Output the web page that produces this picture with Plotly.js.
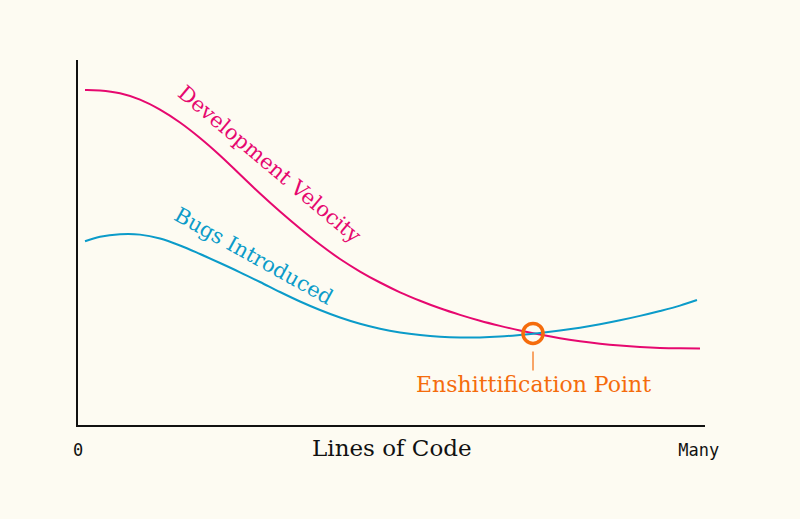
<!DOCTYPE html>
<html><head><meta charset="utf-8">
<script src="https://cdn.plot.ly/plotly-3.0.1.min.js"></script>
<style>html,body{margin:0;padding:0;background:#fdfbf2;}#c{width:800px;height:519px;}</style>
</head><body><div id="c"></div>
<script>
const velX = [1.12, 3.51, 6.70, 9.89, 13.08, 16.27, 19.46, 22.65, 25.84, 29.03, 32.22, 35.41, 38.60, 41.79, 44.98, 48.17,
  51.36, 54.55, 57.74, 60.93, 64.11, 67.30, 70.49, 73.68, 76.87, 80.06, 83.25, 86.44, 89.63, 92.82, 96.01, 99.20];
const velY = [91.78, 91.67, 90.88, 89.15, 86.41, 82.88, 78.63, 73.84, 68.63, 63.42, 58.49, 53.84, 49.45, 45.48, 42.05, 39.04,
  36.36, 34.05, 31.97, 30.16, 28.55, 27.15, 25.89, 24.77, 23.78, 22.96, 22.27, 21.75, 21.37, 21.12, 21.01, 20.99];
const bugX = [1.12, 3.51, 6.70, 9.89, 13.08, 16.27, 19.46, 22.65, 25.84, 29.03, 32.22, 35.41, 38.60, 41.79, 44.98, 48.17,
  51.36, 54.55, 57.74, 60.93, 64.11, 67.30, 70.49, 73.68, 76.87, 80.06, 83.25, 86.44, 89.63, 92.82, 96.01, 98.72];
const bugY = [50.33, 51.56, 52.25, 52.16, 51.10, 49.18, 46.85, 44.38, 41.84, 39.18, 36.44, 33.84, 31.51, 29.45, 27.73, 26.38,
  25.37, 24.66, 24.19, 23.97, 23.97, 24.22, 24.68, 25.23, 25.89, 26.66, 27.59, 28.68, 29.89, 31.23, 32.71, 34.25];
const pointX = [72.57];
const pointY = [25.1];
const tickVals = [0, 99];
const tickText = ['0', 'Many'];
const xTitle = 'Lines of Code';
const serif = 'DejaVu Serif, serif';
const traces = [
  {x: velX, y: velY, mode: 'lines', line: {color: '#e6086f', width: 2, shape: 'spline', smoothing: 1}, hoverinfo: 'skip'},
  {x: bugX, y: bugY, mode: 'lines', line: {color: '#0b9bc9', width: 2, shape: 'spline', smoothing: 1}, hoverinfo: 'skip'},
  {x: pointX, y: pointY, mode: 'markers', marker: {symbol: 'circle-open', size: 20, color: '#f56c0c', line: {width: 3.5, color: '#f56c0c'}}, hoverinfo: 'skip'}
];
const layout = {
  width: 800, height: 519,
  paper_bgcolor: '#fdfbf2', plot_bgcolor: '#fdfbf2',
  margin: {l: 78, r: 95, t: 60, b: 94},
  showlegend: false,
  xaxis: {range: [0, 100], showgrid: false, zeroline: false, showline: true, linecolor: '#111', linewidth: 2,
    tickvals: tickVals, ticktext: tickText, ticks: 'outside', ticklen: 9, tickcolor: 'rgba(0,0,0,0)',
    tickfont: {family: 'DejaVu Sans Mono, monospace', size: 17, color: '#111'}},
  yaxis: {range: [0, 100], showgrid: false, zeroline: false, showline: true, linecolor: '#111', linewidth: 2,
    showticklabels: false, ticks: ''},
  annotations: [
    {x: 0.5, y: -0.063, xref: 'paper', yref: 'paper', xanchor: 'center', yanchor: 'middle', text: xTitle, showarrow: false,
      font: {family: serif, size: 23, color: '#111'}},
    {x: 30.5, y: 71.5, xref: 'x', yref: 'y', text: 'Development Velocity', showarrow: false, textangle: 40,
      font: {family: serif, size: 21, color: '#e6086f'}},
    {x: 28, y: 46.3, xref: 'x', yref: 'y', text: 'Bugs Introduced', showarrow: false, textangle: 29,
      font: {family: serif, size: 21, color: '#0b9bc9'}},
    {x: pointX[0], y: pointY[0], xref: 'x', yref: 'y', text: 'Enshittification Point', showarrow: true,
      ax: 0, ay: 51, arrowhead: 0, arrowwidth: 1.2, arrowcolor: '#f56c0c', standoff: 18,
      font: {family: serif, size: 22, color: '#f56c0c'}}
  ]
};
Plotly.newPlot('c', traces, layout, {staticPlot: true});
</script></body></html>
